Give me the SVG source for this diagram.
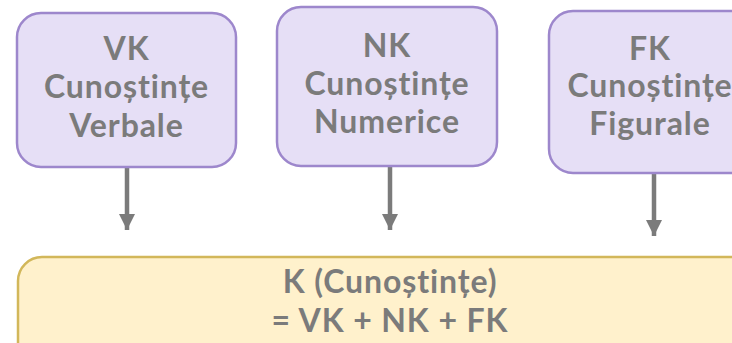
<svg xmlns="http://www.w3.org/2000/svg" width="732" height="343" viewBox="0 0 732 343">
<style>
.box{fill:#e6dff6;stroke:#9d87cc;stroke-width:2.5}
.sum{fill:#fff1cc;stroke:#d2b75a;stroke-width:2.5}
.t{font-family:"Lato","Open Sans",sans-serif;font-weight:bold;font-size:32px;letter-spacing:0.9px;fill:#7b7b7b;text-anchor:middle}
.c{stroke:#7b7b7b;stroke-width:4.5;fill:none}
</style>
<defs>
<marker id="ah" viewBox="0 0 10 10" refX="10" refY="5" markerWidth="16" markerHeight="16" markerUnits="userSpaceOnUse" orient="auto">
<path d="M0,0 L10,5 L0,10 z" fill="#7b7b7b"/>
</marker>
</defs>
<g id="connectors">
<line class="c" x1="127" y1="167" x2="127" y2="230" marker-end="url(#ah)"/>
<line class="c" x1="390" y1="166" x2="390" y2="230" marker-end="url(#ah)"/>
<line class="c" x1="654" y1="173" x2="654" y2="236" marker-end="url(#ah)"/>
</g>
<g id="vk">
<rect class="box" x="17" y="13" width="219" height="154" rx="24"/>
<text class="t" x="126.5" y="60">VK</text>
<text class="t" x="126.5" y="98">Cunoștințe</text>
<text class="t" x="126.5" y="137">Verbale</text>
</g>
<g id="nk">
<rect class="box" x="277" y="7" width="220" height="159" rx="24"/>
<text class="t" x="387" y="57">NK</text>
<text class="t" x="387" y="95">Cunoștințe</text>
<text class="t" x="387" y="133">Numerice</text>
</g>
<g id="fk">
<rect class="box" x="549" y="11" width="220" height="162" rx="24"/>
<text class="t" x="650" y="60">FK</text>
<text class="t" x="650" y="97">Cunoștințe</text>
<text class="t" x="650" y="135">Figurale</text>
</g>
<g id="k">
<rect class="sum" x="18" y="257" width="760" height="120" rx="24"/>
<text class="t" x="390" y="293">K (Cunoștințe)</text>
<text class="t" x="390" y="332">= VK + NK + FK</text>
</g>
</svg>
